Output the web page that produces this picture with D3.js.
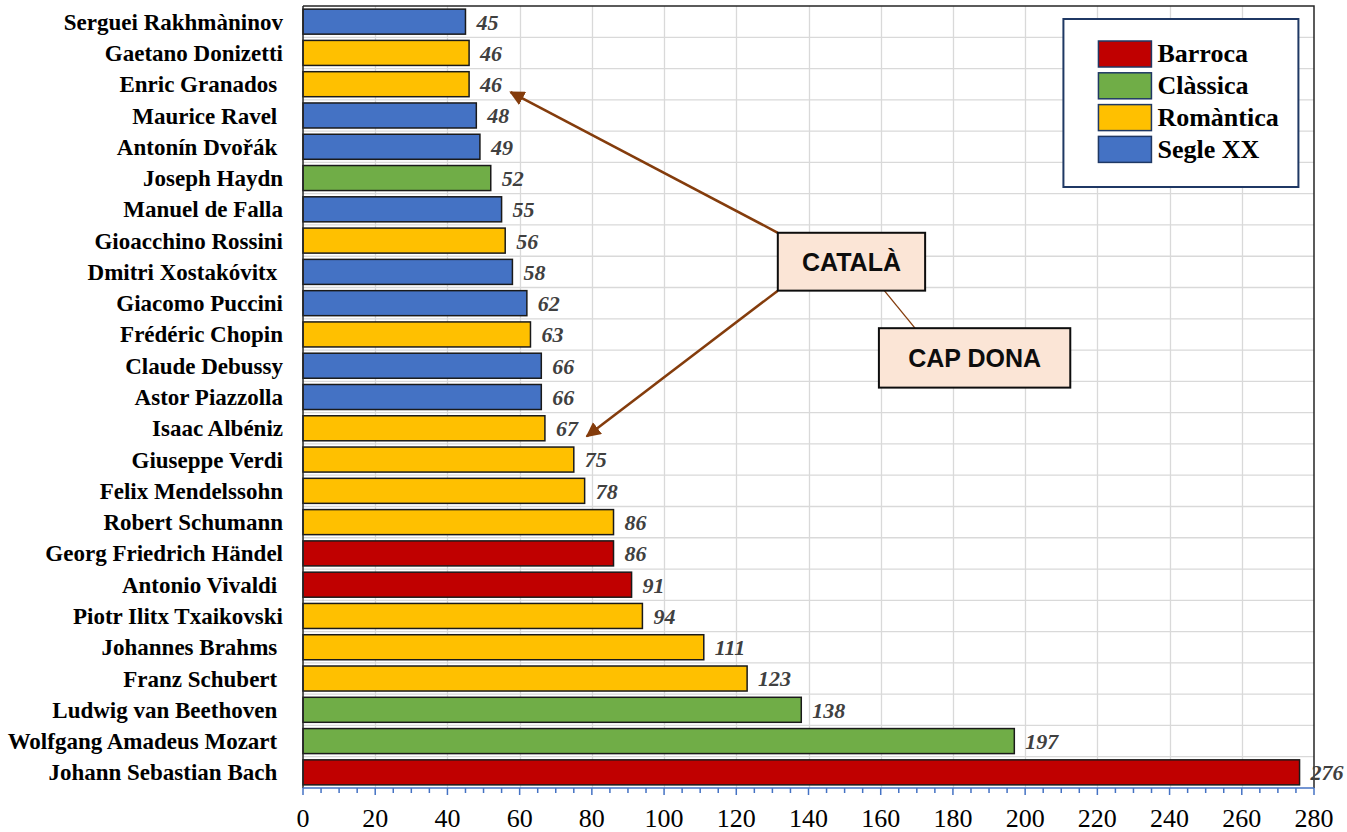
<!DOCTYPE html>
<html>
<head>
<meta charset="utf-8">
<script src="https://cdn.jsdelivr.net/npm/d3@7"></script>
<style>
  body { margin: 0; background: #fff; }
  text { white-space: pre; }
</style>
</head>
<body>
<script>
// chart size
var width = 1347,
    height = 832;

// composers, top to bottom (trailing spaces kept as in the source labels)
var composers = [
  'Serguei Rakhmàninov', 'Gaetano Donizetti', 'Enric Granados ', 'Maurice Ravel ',
  'Antonín Dvořák ', 'Joseph Haydn', 'Manuel de Falla', 'Gioacchino Rossini',
  'Dmitri Xostakóvitx ', 'Giacomo Puccini', 'Frédéric Chopin', 'Claude Debussy',
  'Astor Piazzolla', 'Isaac Albéniz', 'Giuseppe Verdi', 'Felix Mendelssohn',
  'Robert Schumann', 'Georg Friedrich Händel', 'Antonio Vivaldi ', 'Piotr Ilitx Txaikovski',
  'Johannes Brahms ', 'Franz Schubert ', 'Ludwig van Beethoven ', 'Wolfgang Amadeus Mozart ',
  'Johann Sebastian Bach '
];
var values = [45, 46, 46, 48, 49, 52, 55, 56, 58, 62, 63, 66, 66, 67, 75, 78,
              86, 86, 91, 94, 111, 123, 138, 197, 276];
var periods = ['Segle XX', 'Romàntica', 'Romàntica', 'Segle XX', 'Segle XX', 'Clàssica',
               'Segle XX', 'Romàntica', 'Segle XX', 'Segle XX', 'Romàntica', 'Segle XX',
               'Segle XX', 'Romàntica', 'Romàntica', 'Romàntica', 'Romàntica', 'Barroca',
               'Barroca', 'Romàntica', 'Romàntica', 'Romàntica', 'Clàssica', 'Clàssica',
               'Barroca'];

// legend entries and colours
var legendNames = ['Barroca', 'Clàssica', 'Romàntica', 'Segle XX'];
var legendColors = ['#c00000', '#70ad47', '#ffc000', '#4472c4'];

// annotation boxes (x in data units, y in row units)
var boxLabels = ['CATALÀ', 'CAP DONA'];
var boxX0 = [131.5, 159.5];
var boxX1 = [172.3, 212.5];
var boxY0 = [7.25, 10.3];
var boxY1 = [9.1, 12.2];
// arrow targets: composer label + tip position in data units
var arrowTargets = ['Enric Granados ', 'Isaac Albéniz'];
var arrowTipX = [57.5, 78.6];

var margin = {top: 6, right: 33, bottom: 44, left: 303};

var svg = d3.select('body')
  .append('svg')
  .attr('width', width)
  .attr('height', height)
  .style('font-family', '"Liberation Serif", "Times New Roman", serif');

var x = d3.scaleLinear()
  .domain([0, 280])
  .range([margin.left, width - margin.right]);

var y = d3.scaleBand()
  .domain(composers)
  .range([margin.top, height - margin.bottom])
  .paddingInner(0.2)
  .paddingOuter(0.1);

// row scale: continuous version of the band scale
var row = d3.scaleLinear()
  .domain([0, composers.length])
  .range([margin.top, height - margin.bottom]);

var color = d3.scaleOrdinal().domain(legendNames).range(legendColors);

// gridlines
var grid = svg.append('g').attr('stroke', '#d9d9d9').attr('stroke-width', 1.3);
grid.selectAll('.vg')
  .data(d3.range(20, 280, 20))
  .enter().append('line')
  .attr('x1', function(d) { return Math.round(x(d)) + 0.5; })
  .attr('x2', function(d) { return Math.round(x(d)) + 0.5; })
  .attr('y1', margin.top)
  .attr('y2', height - margin.bottom);
grid.selectAll('.hg')
  .data(d3.range(1, composers.length))
  .enter().append('line')
  .attr('x1', margin.left)
  .attr('x2', width - margin.right)
  .attr('y1', function(d) { return row(d); })
  .attr('y2', function(d) { return row(d); });

// frame top / right
svg.append('path')
  .attr('d', 'M' + margin.left + ',' + margin.top + 'H' + x(280) + 'V' + (height - margin.bottom))
  .attr('fill', 'none')
  .attr('stroke', '#262626')
  .attr('stroke-width', 1.5);

// bars
svg.append('g').selectAll('rect')
  .data(composers)
  .enter().append('rect')
  .attr('x', x(0))
  .attr('y', function(d) { return y(d); })
  .attr('width', function(d, i) { return x(values[i]) - x(0); })
  .attr('height', y.bandwidth())
  .attr('fill', function(d, i) { return color(periods[i]); })
  .attr('stroke', '#1a1a1a')
  .attr('stroke-width', 1.5);

// value labels
svg.append('g').selectAll('text')
  .data(composers)
  .enter().append('text')
  .attr('x', function(d, i) { return x(values[i]) + 11; })
  .attr('y', function(d) { return y(d) + y.bandwidth() / 2; })
  .attr('dy', '0.36em')
  .style('font-size', '22px')
  .style('font-weight', 'bold')
  .style('font-style', 'italic')
  .attr('fill', '#404040')
  .text(function(d, i) { return values[i]; });

// category labels
svg.append('g').selectAll('text')
  .data(composers)
  .enter().append('text')
  .attr('x', 283)
  .attr('y', function(d) { return y(d) + y.bandwidth() / 2; })
  .attr('dy', '0.35em')
  .attr('text-anchor', 'end')
  .style('font-size', '23px')
  .style('font-weight', 'bold')
  .attr('fill', '#000')
  .text(function(d) { return d; });

// y axis line
svg.append('line')
  .attr('x1', x(0)).attr('x2', x(0))
  .attr('y1', margin.top).attr('y2', height - margin.bottom)
  .attr('stroke', '#262626').attr('stroke-width', 1.5);

// x axis: blue line, minor ticks every 5, major every 20
var axisY = height - margin.bottom;
var axisG = svg.append('g').attr('stroke', '#4472c4').attr('stroke-width', 1.5);
axisG.append('line')
  .attr('x1', x(0)).attr('x2', x(280))
  .attr('y1', axisY).attr('y2', axisY);
axisG.selectAll('.tk')
  .data(d3.range(0, 281, 5))
  .enter().append('line')
  .attr('x1', function(d) { return x(d); })
  .attr('x2', function(d) { return x(d); })
  .attr('y1', axisY)
  .attr('y2', function(d) { return d % 20 === 0 ? axisY + 7 : axisY + 5; });

svg.append('g').selectAll('text')
  .data(d3.range(0, 281, 20))
  .enter().append('text')
  .attr('x', function(d) { return x(d); })
  .attr('y', axisY + 39)
  .attr('text-anchor', 'middle')
  .style('font-size', '26px')
  .attr('fill', '#000')
  .text(function(d) { return d; });

// legend
var lg = svg.append('g');
lg.append('rect')
  .attr('x', x(210.6)).attr('y', 19)
  .attr('width', 235).attr('height', 168)
  .attr('fill', '#fff')
  .attr('stroke', '#1f3864')
  .attr('stroke-width', 2);
var items = lg.selectAll('.item')
  .data(legendNames)
  .enter().append('g')
  .attr('transform', function(d, i) { return 'translate(' + x(220.3) + ',' + (41 + i * 31.8) + ')'; });
items.append('rect')
  .attr('width', 53).attr('height', 26)
  .attr('fill', function(d) { return color(d); })
  .attr('stroke', '#1f3864')
  .attr('stroke-width', 1.5);
items.append('text')
  .attr('x', 59).attr('y', 12)
  .attr('dy', '0.36em')
  .style('font-size', '26px')
  .style('font-weight', 'bold')
  .text(function(d) { return d; });

// annotations
var brown = '#843c0c';
svg.append('defs').append('marker')
  .attr('id', 'arrow')
  .attr('viewBox', '0 0 10 10')
  .attr('refX', 9).attr('refY', 5)
  .attr('markerWidth', 6).attr('markerHeight', 6)
  .attr('markerUnits', 'strokeWidth')
  .attr('orient', 'auto')
  .append('path')
  .attr('d', 'M0,0L10,5L0,10z')
  .attr('fill', brown);

// connector between the two boxes
svg.append('line')
  .attr('x1', x(161)).attr('y1', row(boxY1[0]))
  .attr('x2', x(169.5)).attr('y2', row(boxY0[1]))
  .attr('stroke', brown).attr('stroke-width', 1.3);

// arrows from CATALÀ box corners to the Catalan composers
var arrowStartsY = [boxY0[0], boxY1[0]];
svg.append('g').selectAll('line')
  .data(arrowTargets)
  .enter().append('line')
  .attr('x1', x(boxX0[0]))
  .attr('y1', function(d, i) { return row(arrowStartsY[i]); })
  .attr('x2', function(d, i) { return x(arrowTipX[i]); })
  .attr('y2', function(d) { return y(d) + y.bandwidth() / 2 + 8; })
  .attr('stroke', brown)
  .attr('stroke-width', 2.5)
  .attr('marker-end', 'url(#arrow)');

var boxes = svg.append('g').selectAll('g')
  .data(boxLabels)
  .enter().append('g');
boxes.append('rect')
  .attr('x', function(d, i) { return x(boxX0[i]); })
  .attr('y', function(d, i) { return row(boxY0[i]); })
  .attr('width', function(d, i) { return x(boxX1[i]) - x(boxX0[i]); })
  .attr('height', function(d, i) { return row(boxY1[i]) - row(boxY0[i]); })
  .attr('fill', '#fbe5d6')
  .attr('stroke', '#0d0d0d')
  .attr('stroke-width', 2);
boxes.append('text')
  .attr('x', function(d, i) { return (x(boxX0[i]) + x(boxX1[i])) / 2; })
  .attr('y', function(d, i) { return (row(boxY0[i]) + row(boxY1[i])) / 2; })
  .attr('dy', '0.36em')
  .attr('text-anchor', 'middle')
  .style('font-family', '"Liberation Sans", Arial, sans-serif')
  .style('font-size', '25px')
  .style('font-weight', 'bold')
  .attr('fill', '#0d0d0d')
  .text(function(d) { return d; });
</script>
</body>
</html>
